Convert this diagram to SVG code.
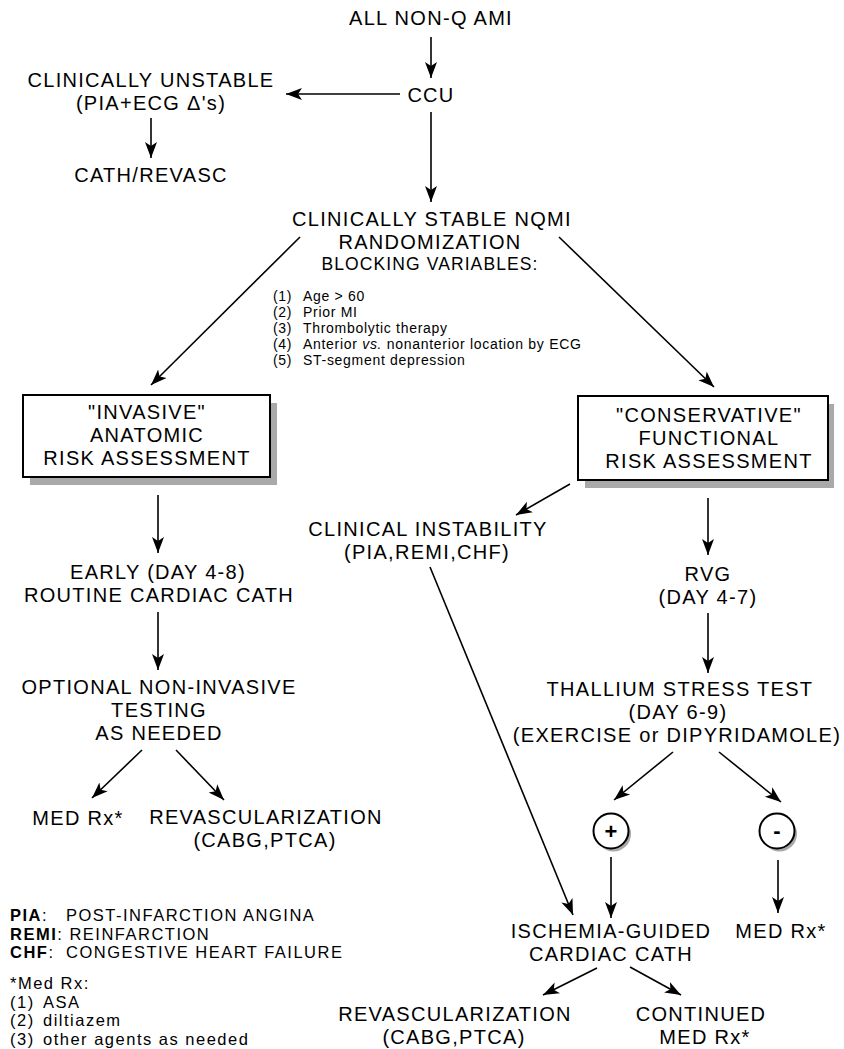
<svg xmlns="http://www.w3.org/2000/svg" width="844" height="1049" viewBox="0 0 844 1049">
<defs>
<marker id="ah" markerUnits="userSpaceOnUse" markerWidth="17" markerHeight="14" refX="16" refY="7" orient="auto">
<path d="M0,1 L16,7 L0,13 L4,7 Z" fill="#000"/>
</marker>
<style>
text{font-family:"Liberation Sans",Arial,sans-serif;fill:#000}
.m{font-size:20px;letter-spacing:1.3px;text-anchor:middle}
.b{font-size:17.5px;letter-spacing:1.1px;text-anchor:middle}
.s{font-size:14px;letter-spacing:0.7px}
.l{font-size:16.5px;letter-spacing:1.5px}
.c line{stroke:#000;stroke-width:1.6;marker-end:url(#ah)}
.box{fill:#fff;stroke:#000;stroke-width:2}
.sh{fill:#a9a9a9}
.circ{fill:#fff;stroke:#000;stroke-width:2}
.sign{font-size:22px;font-weight:bold;text-anchor:middle}
</style>
</defs>
<rect width="844" height="1049" fill="#fff"/>
<g class="c" id="connectors">
<line x1="431" y1="37" x2="431" y2="78"/>
<line x1="400" y1="94" x2="286" y2="94"/>
<line x1="151" y1="118" x2="151" y2="158"/>
<line x1="431" y1="112" x2="431" y2="202"/>
<line x1="300" y1="237" x2="151" y2="385"/>
<line x1="559" y1="237" x2="714" y2="387"/>
<line x1="158" y1="495" x2="158" y2="553"/>
<line x1="570" y1="484" x2="516" y2="515"/>
<line x1="708" y1="498" x2="708" y2="555"/>
<line x1="158" y1="612" x2="158" y2="670"/>
<line x1="708" y1="613" x2="708" y2="673"/>
<line x1="142" y1="750" x2="92" y2="798"/>
<line x1="176" y1="750" x2="224" y2="800"/>
<line x1="430" y1="567" x2="573" y2="915"/>
<line x1="673" y1="752" x2="614" y2="800"/>
<line x1="719" y1="752" x2="781" y2="802"/>
<line x1="611" y1="857" x2="611" y2="918"/>
<line x1="778" y1="860" x2="778" y2="913"/>
<line x1="597" y1="968" x2="543" y2="995"/>
<line x1="630" y1="967" x2="681" y2="995"/>
</g>
<g id="all-nonq"><text class="m" x="431" y="25">ALL NON-Q AMI</text></g>
<g id="ccu"><text class="m" x="431" y="102">CCU</text></g>
<g id="unstable"><text class="m" x="151" y="87">CLINICALLY UNSTABLE</text><text class="m" x="151" y="110">(PIA+ECG Δ's)</text></g>
<g id="cath-revasc"><text class="m" x="151" y="182">CATH/REVASC</text></g>
<g id="stable"><text class="m" x="432" y="226">CLINICALLY STABLE NQMI</text><text class="m" x="430" y="249">RANDOMIZATION</text><text class="b" x="430" y="270">BLOCKING VARIABLES:</text></g>
<g id="blocking-list" class="s">
<text x="273" y="301">(1)</text><text x="303" y="301">Age &gt; 60</text>
<text x="273" y="317">(2)</text><text x="303" y="317">Prior MI</text>
<text x="273" y="333">(3)</text><text x="303" y="333">Thrombolytic therapy</text>
<text x="273" y="349">(4)</text><text x="303" y="349">Anterior <tspan font-style="italic">vs.</tspan> nonanterior location by ECG</text>
<text x="273" y="365">(5)</text><text x="303" y="365">ST-segment depression</text>
</g>
<g id="invasive">
<rect class="sh" x="30" y="403" width="247" height="82"/>
<rect class="box" x="23" y="395" width="247" height="82"/>
<text class="m" x="147" y="419">"INVASIVE"</text><text class="m" x="147" y="442">ANATOMIC</text><text class="m" x="147" y="465">RISK ASSESSMENT</text>
</g>
<g id="conservative">
<rect class="sh" x="585" y="404" width="249" height="84"/>
<rect class="box" x="578" y="396" width="250" height="84"/>
<text class="m" x="709" y="422">"CONSERVATIVE"</text><text class="m" x="709" y="445">FUNCTIONAL</text><text class="m" x="709" y="468">RISK ASSESSMENT</text>
</g>
<g id="instability"><text class="m" x="428" y="536">CLINICAL INSTABILITY</text><text class="m" x="427" y="559">(PIA,REMI,CHF)</text></g>
<g id="early-cath"><text class="m" x="158" y="579">EARLY (DAY 4-8)</text><text class="m" x="159" y="602">ROUTINE CARDIAC CATH</text></g>
<g id="rvg"><text class="m" x="708" y="581">RVG</text><text class="m" x="708" y="604">(DAY 4-7)</text></g>
<g id="optional"><text class="m" x="159" y="694">OPTIONAL NON-INVASIVE</text><text class="m" x="159" y="717">TESTING</text><text class="m" x="159" y="740">AS NEEDED</text></g>
<g id="thallium"><text class="m" x="680" y="696">THALLIUM STRESS TEST</text><text class="m" x="678" y="719">(DAY 6-9)</text><text class="m" x="677" y="742">(EXERCISE or DIPYRIDAMOLE)</text></g>
<g id="med-left"><text class="m" x="78" y="825">MED Rx*</text></g>
<g id="revasc-left"><text class="m" x="266" y="824">REVASCULARIZATION</text><text class="m" x="265" y="847">(CABG,PTCA)</text></g>
<g id="positive">
<circle class="sh" cx="613.5" cy="834" r="17.5"/>
<circle class="circ" cx="611" cy="831" r="17.5"/>
<text class="sign" x="611" y="839">+</text>
</g>
<g id="negative">
<circle class="sh" cx="779.5" cy="834" r="17.5"/>
<circle class="circ" cx="777" cy="831" r="17.5"/>
<text class="sign" x="777" y="838">-</text>
</g>
<g id="ischemia-cath"><text class="m" x="611" y="938">ISCHEMIA-GUIDED</text><text class="m" x="611" y="961">CARDIAC CATH</text></g>
<g id="med-right"><text class="m" x="781" y="938">MED Rx*</text></g>
<g id="revasc-bottom"><text class="m" x="455" y="1021">REVASCULARIZATION</text><text class="m" x="454" y="1044">(CABG,PTCA)</text></g>
<g id="continued"><text class="m" x="701" y="1021">CONTINUED</text><text class="m" x="705" y="1044">MED Rx*</text></g>
<g id="legend" class="l">
<text x="10" y="921"><tspan font-weight="bold">PIA</tspan>:</text><text x="66" y="921">POST-INFARCTION ANGINA</text>
<text x="10" y="939.5"><tspan font-weight="bold">REMI</tspan>: REINFARCTION</text>
<text x="10" y="958"><tspan font-weight="bold">CHF</tspan>:</text><text x="66" y="958">CONGESTIVE HEART FAILURE</text>
<text x="10" y="989">*Med Rx:</text>
<text x="10" y="1007.5">(1)</text><text x="43" y="1007.5">ASA</text>
<text x="10" y="1026">(2)</text><text x="43" y="1026">diltiazem</text>
<text x="10" y="1044.5">(3)</text><text x="43" y="1044.5">other agents as needed</text>
</g>
</svg>
